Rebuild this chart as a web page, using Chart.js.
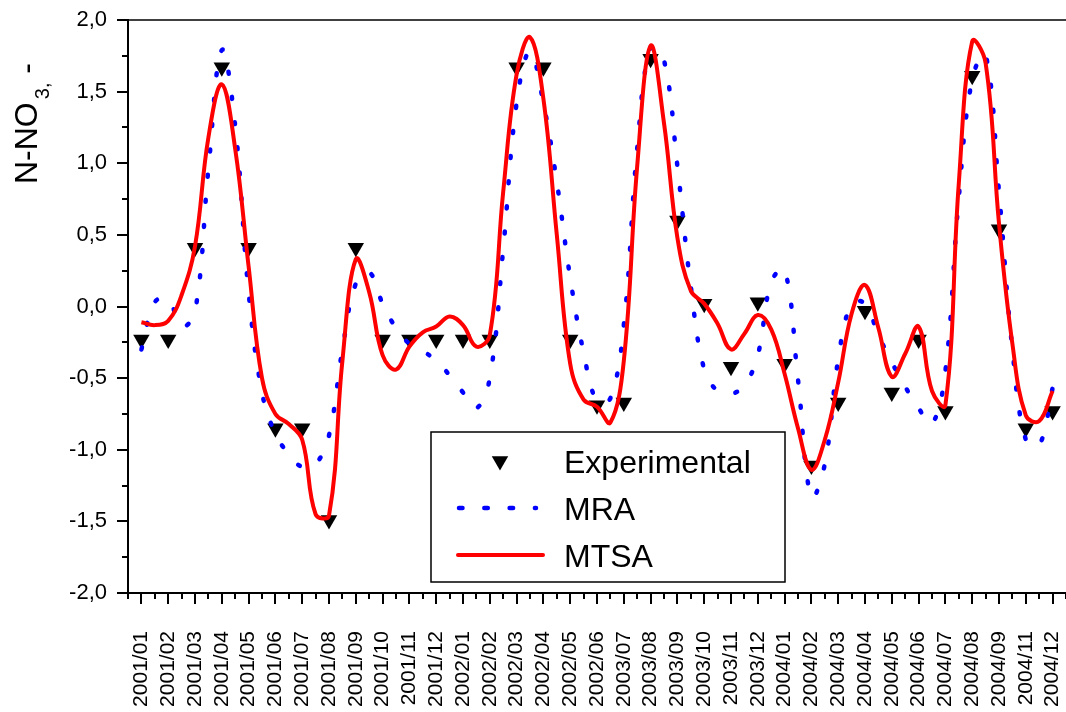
<!DOCTYPE html>
<html>
<head>
<meta charset="utf-8">
<title>N-NO3</title>
<script src="https://cdn.jsdelivr.net/npm/chart.js@4.4.1/dist/chart.umd.min.js"></script>
<style>
  html, body { margin: 0; padding: 0; background: #fff; }
  #wrap { width: 1066px; height: 712px; }
</style>
</head>
<body>
<div id="wrap"><canvas id="chart" width="1066" height="712"></canvas></div>
<script>
// month labels on the x axis (as printed, 2002/07..2003/06 and 2004/10 are missing)
const months = [
  '2001/01', '2001/02', '2001/03', '2001/04', '2001/05', '2001/06',
  '2001/07', '2001/08', '2001/09', '2001/10', '2001/11', '2001/12',
  '2002/01', '2002/02', '2002/03', '2002/04', '2002/05', '2002/06',
  '2003/07', '2003/08', '2003/09', '2003/10', '2003/11', '2003/12',
  '2004/01', '2004/02', '2004/03', '2004/04', '2004/05', '2004/06',
  '2004/07', '2004/08', '2004/09', '2004/11', '2004/12'
];

// measured values, one per month
const experimental = [
  -0.23, -0.23, 0.41, 1.67, 0.41, -0.85, -0.85, -1.49, 0.41, -0.23,
  -0.23, -0.23, -0.23, -0.23, 1.67, 1.67, -0.23, -0.69, -0.67, 1.73,
  0.60, 0.02, -0.42, 0.03, -0.40, -1.11, -0.67, -0.03, -0.60, -0.23,
  -0.73, 1.61, 0.54, -0.85, -0.73
];

// model curves, every half month (0, 0.5, 1, ... 34)
const mraHalfMonths = [
  -0.30, 0.03, 0.05, -0.14, -0.04, 0.96, 1.79, 1.26, 0.10, -0.60,
  -0.89, -1.03, -1.12, -1.10, -0.90, -0.30, 0.16, 0.24, 0.02, -0.15,
  -0.26, -0.31, -0.38, -0.48, -0.60, -0.71, -0.50, 0.40, 1.42, 1.78,
  1.42, 0.87, 0.20, -0.32, -0.66, -0.64, -0.13, 1.10, 1.81, 1.72,
  0.98, 0.14, -0.44, -0.59, -0.61, -0.55, -0.34, 0.17, 0.26, -0.51,
  -1.33, -1.10, -0.37, 0.02, 0.02, -0.20, -0.39, -0.56, -0.71, -0.82,
  -0.45, 0.76, 1.59, 1.76, 0.80, -0.30, -0.93, -0.97, -0.57
];
const mtsaHalfMonths = [
  -0.11, -0.13, -0.10, 0.08, 0.42, 1.18, 1.55, 1.10, 0.28, -0.50,
  -0.75, -0.82, -0.93, -1.45, -1.46, -0.38, 0.33, 0.10, -0.34, -0.44,
  -0.28, -0.18, -0.14, -0.07, -0.13, -0.28, -0.20, 0.80, 1.62, 1.88,
  1.45, 0.50, -0.40, -0.65, -0.70, -0.81, -0.38, 0.98, 1.82, 1.28,
  0.48, 0.11, 0.02, -0.12, -0.30, -0.19, -0.06, -0.16, -0.47, -0.85,
  -1.14, -0.93, -0.53, -0.05, 0.15, -0.15, -0.49, -0.33, -0.14, -0.59,
  -0.69, 0.86, 1.85, 1.70, 0.58, -0.26, -0.76, -0.80, -0.59
];

const yTicks = [-2, -1.5, -1, -0.5, 0, 0.5, 1, 1.5, 2];

const FONT = "'Liberation Sans', Arial, Helvetica, sans-serif";

function decimalComma(v) {
    return v.toFixed(1).replace('.', ',');
}

// axis tick marks (major + minor), top frame line and the y title
const axisDecor = {
    id: 'axisDecor',
    afterDraw(chart) {
        const ctx = chart.ctx;
        const area = chart.chartArea;
        const xs = chart.scales.x;
        const ys = chart.scales.y;
        ctx.save();
        ctx.strokeStyle = '#000';

        // top frame
        ctx.lineWidth = 1.5;
        ctx.beginPath();
        ctx.moveTo(area.left, area.top);
        ctx.lineTo(area.right, area.top);
        ctx.stroke();

        // x ticks: major at every month, minor half way
        ctx.lineWidth = 2;
        ctx.beginPath();
        for (let k = -1; k <= months.length * 2 - 1; k++) {
            const px = Math.round(xs.getPixelForValue(k / 2));
            const len = k % 2 === 0 ? 11 : 6;
            ctx.moveTo(px, area.bottom);
            ctx.lineTo(px, area.bottom + len);
        }
        // y ticks: major every 0.5, minor every 0.25
        for (let v = -2; v <= 2.001; v += 0.25) {
            const py = Math.round(ys.getPixelForValue(v));
            const major = Math.abs(v * 2 - Math.round(v * 2)) < 1e-6;
            const len = major ? 11 : 6;
            ctx.moveTo(area.left - len, py);
            ctx.lineTo(area.left, py);
        }
        ctx.stroke();

        // y axis title with subscript
        ctx.fillStyle = '#000';
        ctx.translate(37, 184);
        ctx.rotate(-Math.PI / 2);
        ctx.textBaseline = 'alphabetic';
        ctx.textAlign = 'left';
        ctx.font = '32px ' + FONT;
        let x = 0;
        ctx.fillText('N-NO', x, 0);
        x += ctx.measureText('N-NO').width + 3;
        ctx.font = '20px ' + FONT;
        ctx.fillText('3,', x, 12);
        x += ctx.measureText('3,').width;
        ctx.font = '32px ' + FONT;
        ctx.fillText(' -', x, 0);
        ctx.restore();
    }
};

// boxed legend inside the plot
const boxLegend = {
    id: 'boxLegend',
    afterDraw(chart) {
        const ctx = chart.ctx;
        ctx.save();
        ctx.fillStyle = '#fff';
        ctx.fillRect(431, 432, 354, 150);
        ctx.strokeStyle = '#000';
        ctx.lineWidth = 1.5;
        ctx.strokeRect(431, 432, 354, 150);

        // Experimental: down triangle
        const r = 9.5, cx = 500, cy = 461;
        ctx.fillStyle = '#000';
        ctx.beginPath();
        ctx.moveTo(cx, cy + r);
        ctx.lineTo(cx - r * Math.sin(Math.PI / 3), cy - r / 2);
        ctx.lineTo(cx + r * Math.sin(Math.PI / 3), cy - r / 2);
        ctx.closePath();
        ctx.fill();

        // MRA: blue dots
        ctx.strokeStyle = '#0000ff';
        ctx.lineWidth = 4.5;
        ctx.lineCap = 'round';
        ctx.setLineDash([3.5, 21.8]);
        ctx.beginPath();
        ctx.moveTo(459, 508);
        ctx.lineTo(536, 508);
        ctx.stroke();

        // MTSA: red line
        ctx.setLineDash([]);
        ctx.lineWidth = 4;
        ctx.strokeStyle = '#ff0000';
        ctx.beginPath();
        ctx.moveTo(458, 555);
        ctx.lineTo(543, 555);
        ctx.stroke();

        ctx.fillStyle = '#000';
        ctx.font = '32px ' + FONT;
        ctx.textBaseline = 'alphabetic';
        ctx.fillText('Experimental', 564, 473);
        ctx.fillText('MRA', 564, 520);
        ctx.fillText('MTSA', 564, 567);
        ctx.restore();
    }
};

const ctx = document.getElementById('chart').getContext('2d');
new Chart(ctx, {
    type: 'line',
    data: {
        datasets: [{
            label: 'Experimental',
            data: experimental.map((v, i) => ({ x: i, y: v })),
            showLine: false,
            pointStyle: 'triangle',
            rotation: 180,
            pointRadius: 9.5,
            pointBackgroundColor: '#000',
            pointBorderColor: '#000',
            pointBorderWidth: 0,
            order: 3
        }, {
            label: 'MRA',
            data: mraHalfMonths.map((v, k) => ({ x: k / 2, y: v })),
            borderColor: '#0000ff',
            borderWidth: 4.5,
            borderDash: [2, 23.3],
            borderCapStyle: 'round',
            pointRadius: 0,
            tension: 0.4,
            fill: false,
            order: 2
        }, {
            label: 'MTSA',
            data: mtsaHalfMonths.map((v, k) => ({ x: k / 2, y: v })),
            borderColor: '#ff0000',
            borderWidth: 4,
            pointRadius: 0,
            tension: 0.4,
            fill: false,
            order: 1
        }]
    },
    options: {
        responsive: false,
        maintainAspectRatio: false,
        devicePixelRatio: 1,
        animation: false,
        layout: {
            autoPadding: false,
            padding: { top: 20, left: 0, right: 0, bottom: 0 }
        },
        plugins: {
            legend: { display: false },
            tooltip: { enabled: false }
        },
        scales: {
            x: {
                type: 'linear',
                min: -0.5,
                max: 34.5,
                afterBuildTicks: function(scale) {
                    scale.ticks = months.map((m, i) => ({ value: i }));
                },
                afterFit: function(scale) {
                    scale.height = 119;
                    scale.paddingLeft = 0;
                    scale.paddingRight = 0;
                },
                ticks: {
                    autoSkip: false,
                    minRotation: 90,
                    maxRotation: 90,
                    padding: 38,
                    color: '#000',
                    font: { family: FONT, size: 21 },
                    callback: function(value) {
                        return months[value];
                    }
                },
                grid: { display: false, drawTicks: false },
                border: { display: true, color: '#000', width: 2 }
            },
            y: {
                min: -2,
                max: 2,
                afterBuildTicks: function(scale) {
                    scale.ticks = yTicks.map(v => ({ value: v }));
                },
                afterFit: function(scale) {
                    scale.width = 128;
                    scale.paddingTop = 0;
                    scale.paddingBottom = 0;
                },
                ticks: {
                    padding: 21,
                    color: '#000',
                    font: { family: FONT, size: 22 },
                    callback: function(value) {
                        return decimalComma(value);
                    }
                },
                grid: { display: false, drawTicks: false },
                border: { display: true, color: '#000', width: 2 }
            }
        }
    },
    plugins: [axisDecor, boxLegend]
});
</script>
</body>
</html>
